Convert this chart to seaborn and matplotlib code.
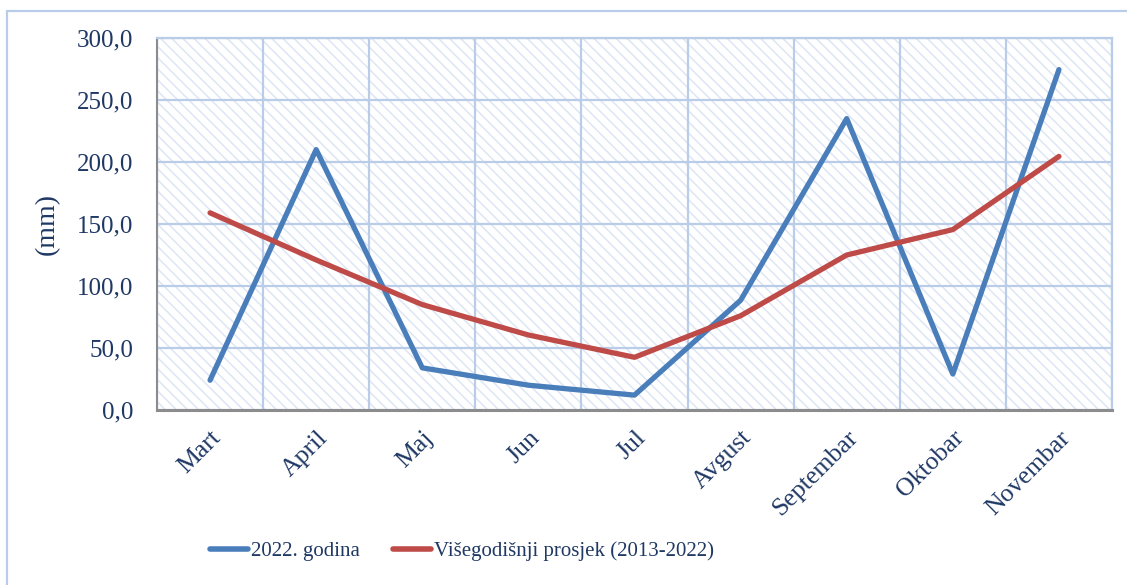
import matplotlib
matplotlib.use("Agg")
import matplotlib.pyplot as plt
from matplotlib.patches import Rectangle
from matplotlib.lines import Line2D
from matplotlib.ticker import FuncFormatter, FixedLocator
import seaborn as sns
import pandas as pd
import numpy as np

months = ["Mart", "April", "Maj", "Jun", "Jul", "Avgust", "Septembar", "Oktobar", "Novembar"]
y2022 = [24.0, 210.0, 34.0, 20.0, 12.0, 88.5, 235.0, 29.0, 274.5]
avg_2013_2022 = [159.0, 121.0, 85.0, 60.5, 42.5, 76.0, 125.0, 145.5, 204.5]
series_names = ["2022. godina", "Višegodišnji prosjek (2013-2022)"]
yticks = [0, 50, 100, 150, 200, 250, 300]

sns.set_theme(style="white")
plt.rcParams['font.family'] = ['Liberation Serif', 'DejaVu Serif']
text_color = "#1F3864"
grid_color = "#B9CCE8"
hatch_color = "#DDE6F4"

df = pd.DataFrame({
    "month": months * 2,
    "x": list(range(len(months))) * 2,
    "value": y2022 + avg_2013_2022,
    "series": [series_names[0]] * len(months) + [series_names[1]] * len(months),
})

fig = plt.figure(figsize=(11.27, 5.85), dpi=100)
ax = fig.add_axes([157 / 1127, 1 - 410 / 585, (1112 - 157) / 1127, (410 - 38) / 585])

# hatched background
plt.rcParams['hatch.linewidth'] = 1.1
bg = Rectangle((0, 0), 1, 1, transform=ax.transAxes, facecolor="white",
               edgecolor=hatch_color, hatch="\\" * 3, linewidth=0, zorder=0)
ax.add_patch(bg)

sns.lineplot(data=df, x="x", y="value", hue="series", ax=ax,
             palette=["#4A7EBB", "#BE4B48"], linewidth=3.8, legend=False,
             zorder=5)

ax.set_xlim(-0.5, len(months) - 0.5)
ax.set_ylim(0, 300)
ax.set_yticks(yticks)
ax.yaxis.set_major_formatter(FuncFormatter(lambda v, p: f"{v:.1f}".replace(".", ",")))
ax.set_xticks(range(len(months)))
ax.set_xticklabels(months)
ax.xaxis.set_minor_locator(FixedLocator(np.arange(-0.5, len(months), 1.0)))

ax.grid(False)
ax.yaxis.grid(True, which="major", color=grid_color, linewidth=1.6, zorder=1)
ax.xaxis.grid(True, which="minor", color=grid_color, linewidth=1.6, zorder=1)
ax.set_axisbelow(True)

ax.tick_params(axis="both", which="both", length=0)
ax.tick_params(axis="y", pad=17, labelsize=18, labelcolor=text_color)
ax.tick_params(axis="x", pad=12, labelsize=18.5, labelcolor=text_color)
for lbl in ax.get_xticklabels():
    lbl.set_rotation(45)
    lbl.set_ha("right")
    lbl.set_va("top")
    lbl.set_rotation_mode("anchor")

ax.set_xlabel("")
ax.set_ylabel("(mm)", fontsize=20, color=text_color, labelpad=12)

for s in ["top", "right"]:
    ax.spines[s].set_color(grid_color)
    ax.spines[s].set_linewidth(1.6)
ax.spines["left"].set_color("#8C8C8C")
ax.spines["left"].set_linewidth(1.5)
ax.spines["bottom"].set_color("#8C8C8C")
ax.spines["bottom"].set_linewidth(2.2)

handles = [Line2D([], [], color="#4A7EBB", linewidth=4.0, solid_capstyle="round"),
           Line2D([], [], color="#BE4B48", linewidth=4.0, solid_capstyle="round")]
fig.legend(handles, series_names, loc="center", bbox_to_anchor=(462 / 1127, 1 - 551 / 585),
           ncol=2, frameon=False, fontsize=15, handlelength=1.8, handletextpad=0.15,
           columnspacing=1.6, labelcolor=text_color)

border = Rectangle((7 / 1127, -0.5), 2, 0.5 + (1 - 11 / 585), transform=fig.transFigure,
                   facecolor="none", edgecolor=grid_color, linewidth=1.6)
fig.add_artist(border)

fig.savefig("out.png", dpi=100)
